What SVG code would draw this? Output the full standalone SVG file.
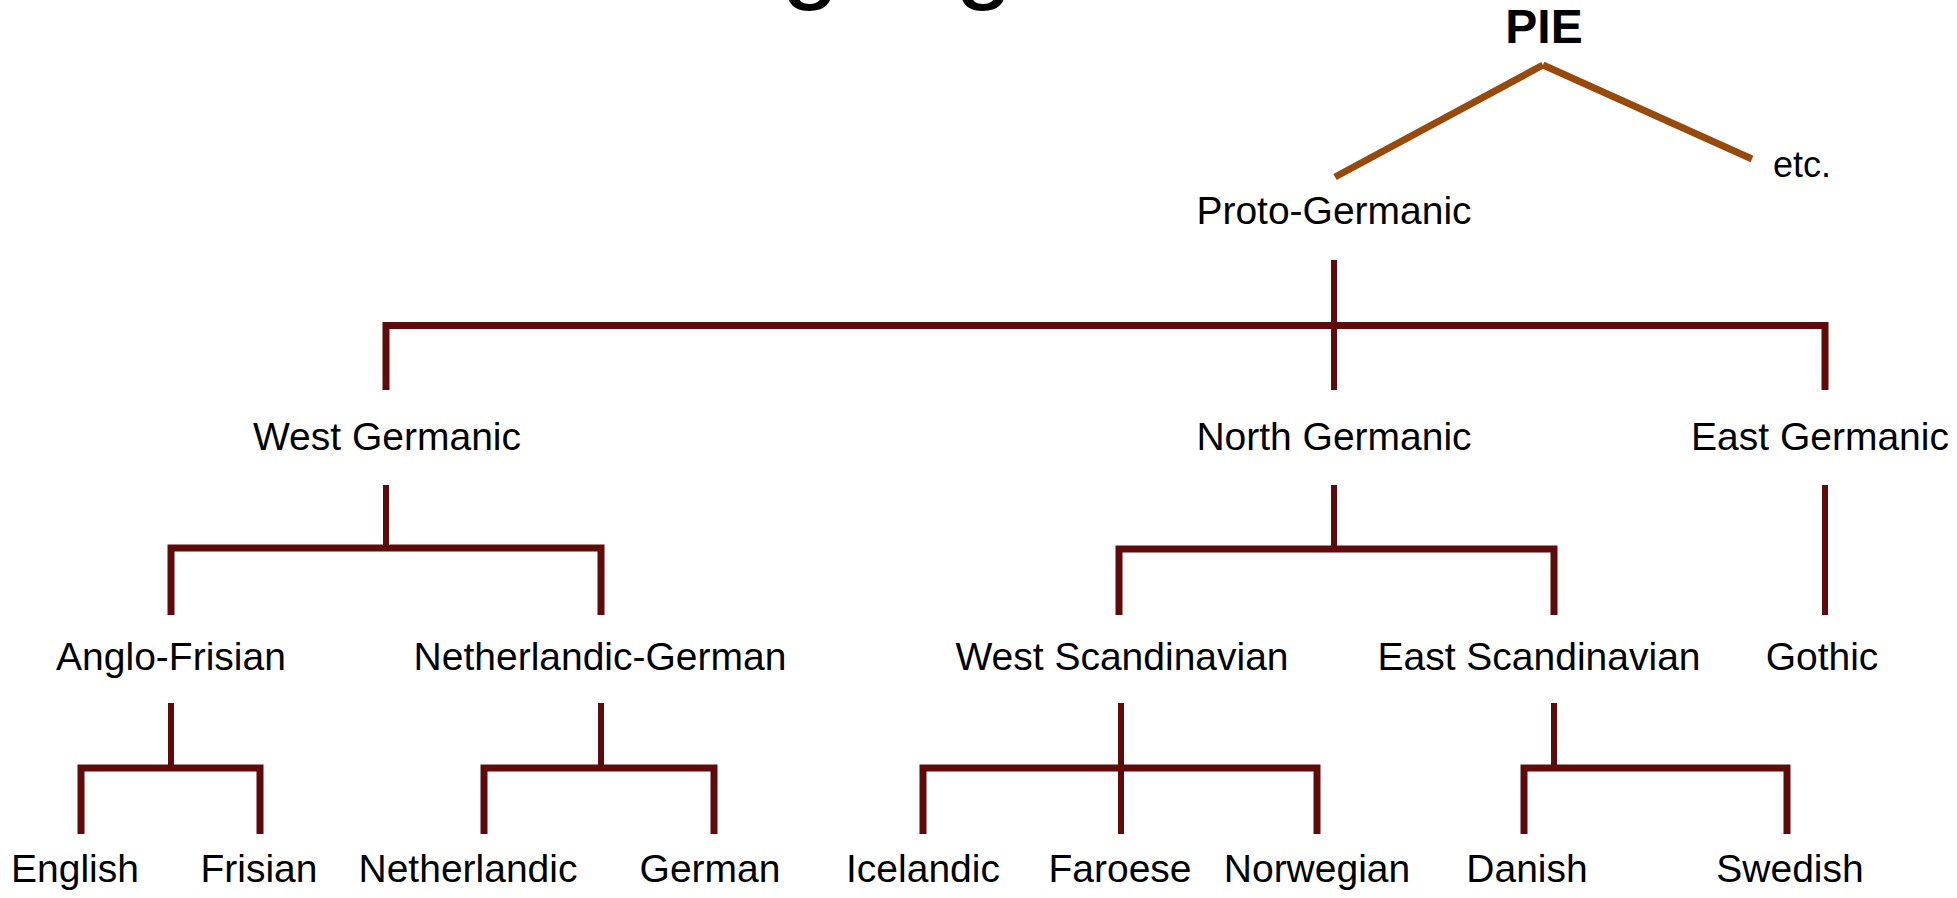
<svg xmlns="http://www.w3.org/2000/svg" width="1957" height="898" viewBox="0 0 1957 898">
<style>
.lbl{font-family:"Liberation Sans",Arial,Helvetica,sans-serif;font-size:39px;fill:#000;text-anchor:middle}
.br{stroke:#5f0b0b;fill:none;stroke-width:7;stroke-linecap:butt;stroke-linejoin:miter}
.st{stroke:#5f0b0b;fill:none;stroke-width:6;stroke-linecap:butt}
.pie{stroke:#974a0b;fill:none;stroke-width:7;stroke-linecap:butt}
</style>
<rect width="1957" height="898" fill="#fff"/>
<g id="title">
<text x="608" y="-11" style="font-family:'Liberation Sans',Arial,sans-serif;font-size:104px;fill:#000">Languages</text>
</g>
<g id="connectors">
<line class="pie" x1="1335" y1="177" x2="1543" y2="65"/>
<line class="pie" x1="1543" y1="65" x2="1752" y2="159"/>
<path class="br" d="M386,390 V325.5 H1825 V390"/>
<path class="st" d="M1334,260 V390"/>
<path class="st" d="M386,485 V548"/>
<path class="br" d="M171,615 V548 H601 V615"/>
<path class="st" d="M1334,485 V549"/>
<path class="br" d="M1119,615 V549 H1554 V615"/>
<path class="st" d="M1825,485 V615"/>
<path class="st" d="M171,703 V768"/>
<path class="br" d="M81,834 V768 H260 V834"/>
<path class="st" d="M601,703 V768"/>
<path class="br" d="M484,834 V768 H714 V834"/>
<path class="br" d="M923,834 V768 H1317 V834"/>
<path class="st" d="M1121,703 V834"/>
<path class="st" d="M1554,703 V768"/>
<path class="br" d="M1524,834 V768 H1787 V834"/>
</g>
<g id="node-pie"><text class="lbl" x="1544" y="43" style="font-weight:bold;font-size:48px">PIE</text></g>
<g id="node-etc"><text class="lbl" x="1773" y="177" style="text-anchor:start;font-size:36px">etc.</text></g>
<g id="node-proto-germanic"><text class="lbl" x="1334" y="224">Proto-Germanic</text></g>
<g id="node-west-germanic"><text class="lbl" x="387" y="450">West Germanic</text></g>
<g id="node-north-germanic"><text class="lbl" x="1334" y="450">North Germanic</text></g>
<g id="node-east-germanic"><text class="lbl" x="1820" y="450">East Germanic</text></g>
<g id="node-anglo-frisian"><text class="lbl" x="171" y="670">Anglo-Frisian</text></g>
<g id="node-netherlandic-german"><text class="lbl" x="600" y="670">Netherlandic-German</text></g>
<g id="node-west-scandinavian"><text class="lbl" x="1122" y="670">West Scandinavian</text></g>
<g id="node-east-scandinavian"><text class="lbl" x="1539" y="670">East Scandinavian</text></g>
<g id="node-gothic"><text class="lbl" x="1822" y="670">Gothic</text></g>
<g id="node-english"><text class="lbl" x="75" y="882">English</text></g>
<g id="node-frisian"><text class="lbl" x="259" y="882">Frisian</text></g>
<g id="node-netherlandic"><text class="lbl" x="468" y="882">Netherlandic</text></g>
<g id="node-german"><text class="lbl" x="710" y="882">German</text></g>
<g id="node-icelandic"><text class="lbl" x="923" y="882">Icelandic</text></g>
<g id="node-faroese"><text class="lbl" x="1120" y="882">Faroese</text></g>
<g id="node-norwegian"><text class="lbl" x="1317" y="882">Norwegian</text></g>
<g id="node-danish"><text class="lbl" x="1527" y="882">Danish</text></g>
<g id="node-swedish"><text class="lbl" x="1790" y="882">Swedish</text></g>
</svg>
